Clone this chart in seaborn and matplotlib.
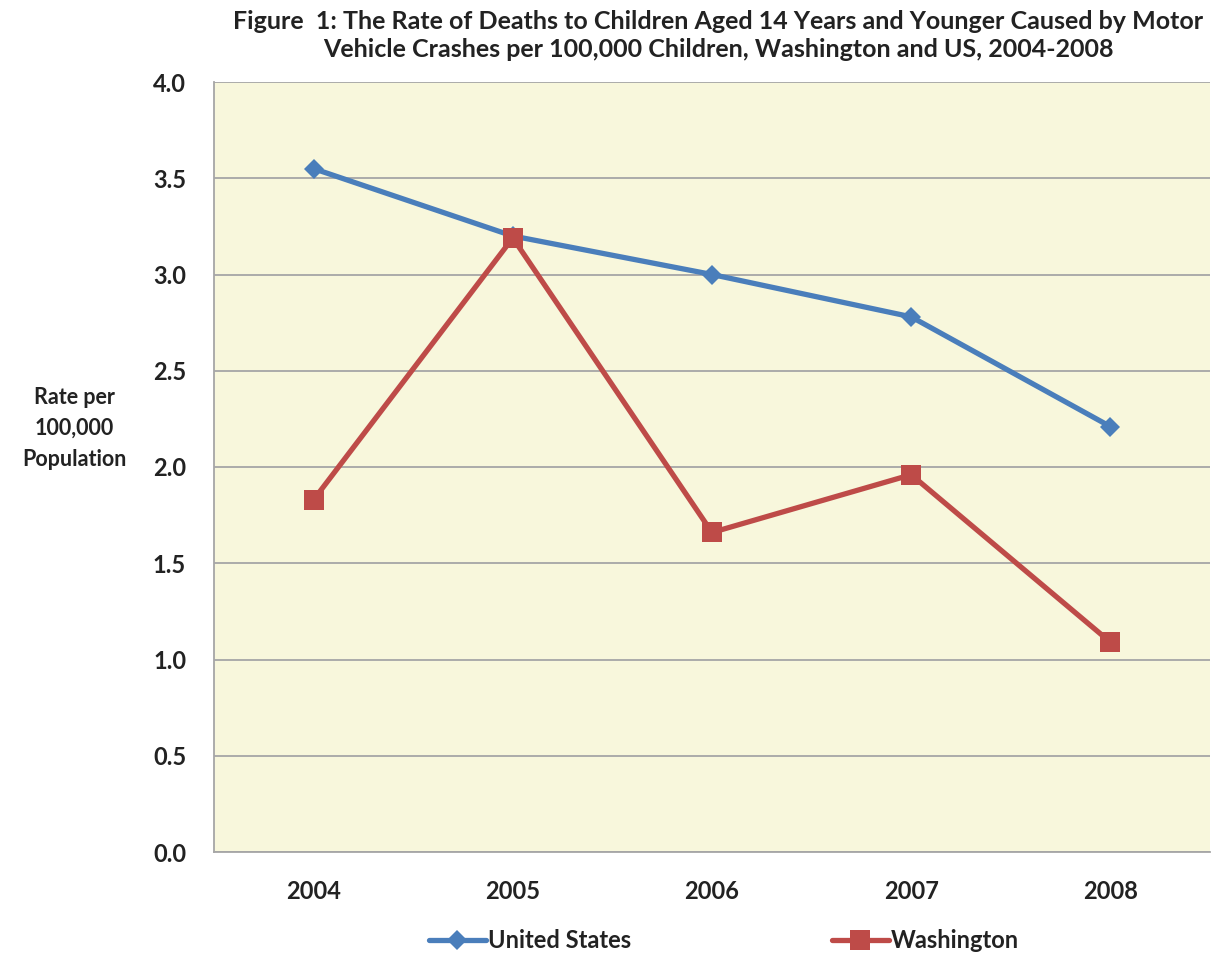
import matplotlib.pyplot as plt
import matplotlib.ticker as mticker
import seaborn as sns
import pandas as pd

years = ["2004", "2005", "2006", "2007", "2008"]
us_rate = [3.55, 3.20, 3.00, 2.78, 2.21]
wa_rate = [1.83, 3.19, 1.66, 1.96, 1.09]
series_names = ["United States", "Washington"]

# long format for seaborn
df = pd.DataFrame({
    "Year": years * 2,
    "Rate": us_rate + wa_rate,
    "Area": [series_names[0]] * len(years) + [series_names[1]] * len(years),
})
df["pos"] = list(range(len(years))) * 2

sns.set_style("white")
plt.rcParams["font.family"] = ["Lato", "DejaVu Sans"]

fig = plt.figure(figsize=(12.17, 9.57), dpi=100)
ax = fig.add_axes([214 / 1217, 1 - 852 / 957, (1210 - 214) / 1217, (852 - 82) / 957])
ax.set_facecolor("#F8F7DC")

blue, red = "#4A7EBB", "#BE4B48"
sns.lineplot(data=df, x="pos", y="Rate", hue="Area", style="Area",
             palette={"United States": blue, "Washington": red},
             markers={"United States": "D", "Washington": "s"},
             dashes=False, linewidth=3.8, ax=ax, legend=False)

# marker sizes differ per series
for line, ms in zip(ax.lines, [10, 15]):
    line.set_markersize(ms)
    line.set_markeredgewidth(0)

ax.set_ylim(0, 4.0)
ax.set_xlim(-0.5, len(years) - 0.5)
ax.yaxis.set_major_locator(mticker.MultipleLocator(0.5))
ax.yaxis.set_major_formatter(mticker.FormatStrFormatter("%.1f"))
ax.grid(axis="y", color="#A6A6A6", linewidth=1.3)
ax.set_axisbelow(True)

ax.set_xticks(range(len(years)))
ax.set_xticklabels(years)
ax.set_xticks([i - 0.5 for i in range(len(years) + 1)], minor=True)
ax.tick_params(axis="x", which="major", length=0, pad=20, labelsize=17, labelcolor="#222222")
ax.tick_params(axis="x", which="minor", length=8, color="#A6A6A6", width=1.2, direction="out")
ax.tick_params(axis="y", length=8, color="#A6A6A6", width=1.2, direction="out", pad=12,
               labelsize=17, labelcolor="#222222")
for lab in ax.get_xticklabels() + ax.get_yticklabels():
    lab.set_fontweight("bold")

for s in ["top", "right"]:
    ax.spines[s].set_visible(False)
for s in ["left", "bottom"]:
    ax.spines[s].set_color("#A6A6A6")
    ax.spines[s].set_linewidth(1.3)

ax.set_xlabel("")
ax.set_ylabel("Rate per\n100,000\nPopulation", rotation=0, fontsize=15.5, fontweight="bold",
              labelpad=0, linespacing=1.6, color="#222222", va="center")
ax.yaxis.set_label_coords(-0.14, 0.55)

fig.suptitle("Figure  1: The Rate of Deaths to Children Aged 14 Years and Younger Caused by Motor\n"
             "Vehicle Crashes per 100,000 Children, Washington and US, 2004-2008",
             x=0.59, y=0.99, fontsize=18, fontweight="bold", color="#222222",
             linespacing=1.3)

handles = [plt.Line2D([], [], color=blue, marker="D", markersize=10, linewidth=3.8, markeredgewidth=0),
           plt.Line2D([], [], color=red, marker="s", markersize=15, linewidth=3.8, markeredgewidth=0)]
fig.legend(handles, series_names, loc="center", bbox_to_anchor=(0.595, 0.017), ncol=2,
           frameon=False, prop={"size": 17, "weight": "bold"}, columnspacing=8.5,
           handlelength=2.4, handletextpad=0.1, labelcolor="#222222")

fig.savefig("out.png", dpi=100)
